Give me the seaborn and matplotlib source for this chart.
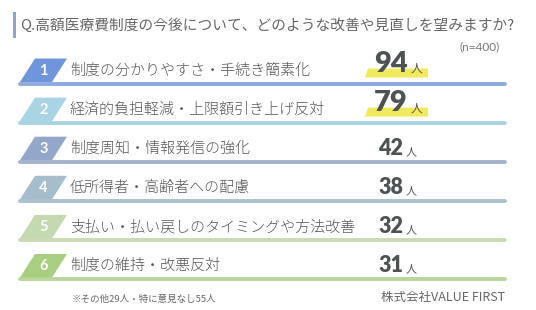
import matplotlib
matplotlib.use("Agg")
import matplotlib.pyplot as plt
from matplotlib.patches import Polygon
import seaborn as sns
import pandas as pd

# ---- data ----
title = "Q.高額医療費制度の今後について、どのような改善や見直しを望みますか?"
sample_note = "(n=400)"
ranks = [1, 2, 3, 4, 5, 6]
labels = [
    "制度の分かりやすさ・手続き簡素化",
    "経済的負担軽減・上限額引き上げ反対",
    "制度周知・情報発信の強化",
    "低所得者・高齢者への配慮",
    "支払い・払い戻しのタイミングや方法改善",
    "制度の維持・改悪反対",
]
counts = [94, 79, 42, 38, 32, 31]
unit = "人"
footnote = "※その他29人・特に意見なし55人"
credit = "株式会社VALUE FIRST"

badge_colors = ["#6f96dc", "#a8d4e3", "#93a8c8", "#a5bdcc", "#c5d9b0", "#a8cf7f"]
line_colors = ["#8eaadf", "#a8d4e1", "#a4b3cc", "#a9c0cd", "#cadab6", "#b9d69c"]

# ---- style ----
sns.set_theme(style="white")
plt.rcParams["font.family"] = ["Noto Sans CJK JP", "DejaVu Sans"]

W, H = 536, 310
fig = plt.figure(figsize=(W / 100, H / 100), dpi=100)
ax = fig.add_axes([0, 0, 1, 1])

# layout
row0, row_gap = 83.5, 39.1
x_line0, x_line1 = 20, 505
row_y = [row0 + row_gap * i for i in range(len(ranks))]

# underlines through seaborn
df = pd.DataFrame({
    "x": [x_line0, x_line1] * len(ranks),
    "y": [y for y in row_y for _ in (0, 1)],
    "rank": [r for r in ranks for _ in (0, 1)],
})
sns.lineplot(data=df, x="x", y="y", hue="rank", palette=line_colors,
             linewidth=2.8, legend=False, estimator=None, ax=ax)
ax.set_xlim(0, W)
ax.set_ylim(H, 0)
ax.axis("off")

# title
ax.add_patch(plt.Rectangle((13, 12), 2.5, 26, color="#8fa4cb", lw=0))
ax.text(20, 25, title, fontsize=10.6, color="#666666", va="center", ha="left")
ax.text(500, 47, sample_note, fontsize=8.5, color="#777777", va="center", ha="right",
        family=["Lato", "DejaVu Sans"])

num_font = ["Lato", "DejaVu Sans"]
for i, (r, lab, c) in enumerate(zip(ranks, labels, counts)):
    y = row_y[i]
    top, bot = y - 25, y - 1.5
    x0, slant, w = 20, 15, 32
    ax.add_patch(Polygon([(x0, bot), (x0 + slant, top), (x0 + slant + w, top), (x0 + w, bot)],
                         closed=True, color=badge_colors[i], lw=0, zorder=3))
    ax.text(x0 + (slant + w) / 2, (top + bot) / 2 + 0.5, str(r), color="white", fontsize=10.5,
            fontweight="bold", ha="center", va="center", family=num_font, zorder=4)
    ax.text(70, y - 13, lab, fontsize=10.8, color="#555555", ha="left", va="center",
            fontweight="light", zorder=4)

    if i < 2:
        # yellow highlight
        hy0, hy1 = y - 15, y - 6
        ax.add_patch(Polygon([(365, hy1), (368, hy0), (428, hy0), (428, hy1)], closed=True,
                             color="#f2ea5e", lw=0, zorder=2))
        ax.text(408, y - 11.5, str(c), fontsize=21, fontweight="heavy", color="#4d5353",
                ha="right", va="baseline", family=num_font, zorder=4)
        ax.text(411, y - 11.5, unit, fontsize=8.5, color="#555555", ha="left", va="baseline", zorder=4)
    else:
        ax.text(403, y - 6.5, str(c), fontsize=15.5, fontweight="heavy", color="#4d5353",
                ha="right", va="baseline", family=num_font, zorder=4)
        ax.text(406, y - 6.5, unit, fontsize=8, color="#555555", ha="left", va="baseline", zorder=4)

ax.text(72, 299, footnote, fontsize=6.8, color="#666666", ha="left", va="center")
ax.text(505, 298, credit, fontsize=9, color="#666666", ha="right", va="center")

fig.savefig("out.png", dpi=100)
